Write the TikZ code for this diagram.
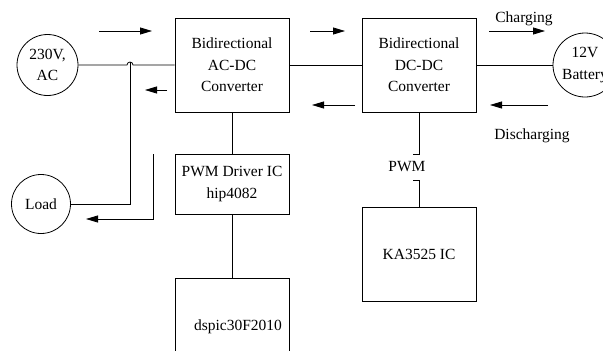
\documentclass[tikz,border=0pt]{standalone}
\usepackage{fontspec}
\setmainfont{Liberation Serif}
\usetikzlibrary{arrows.meta}

\begin{document}
\begin{tikzpicture}[>={Triangle[length=12pt,width=7pt]},x=1pt,y=-1pt,line width=0.8pt]

        % Styles
        \tikzset{
          txt/.style={font=\fontsize{15.5}{21.5}\selectfont,align=center,inner sep=0pt},
          block/.style={txt,rectangle,draw,minimum width=114pt},
          port/.style={txt,circle,draw}
        }

        % y-coordinates for rows
        \def\ytop{65}      % converters
        \def\ymid{184}     % driver
        \def\ylow{254}     % KA3525
        \def\ybot{327}     % dspic

        \useasboundingbox (0,0) rectangle (603,351);
        \clip (0,0) rectangle (603,351);

        %-------------------------------
        % Converters
        %-------------------------------
        \node[block,minimum height=94pt] (acdc) at (232,\ytop)
        {Bidirectional\\AC-DC\\Converter};
        \node[block,minimum height=94pt] (dcdc) at (419,\ytop)
        {Bidirectional\\DC-DC\\Converter};

        % Control blocks
        \node[block,minimum height=60pt] (drv) at (232,\ymid) {PWM Driver IC\\hip4082};
        \node[block,minimum height=94pt] (ka)  at (419,\ylow) {KA3525 IC};
        \node[block,minimum height=98pt] (dsp) at (232,\ybot) {\hspace*{12pt}dspic30F2010};

        % Source, load and battery
        \node[port,minimum size=61pt] (ac)   at (47.5,\ytop) {230V,\\AC};
        \node[port,minimum size=59pt] (load) at (41,204)     {Load};
        \node[port,minimum size=64pt] (bat)  at (585,\ytop)  {12V\\Battery};

        %-------------------------------
        % Power path
        %-------------------------------
        \coordinate (hop) at (130,\ytop);
        \draw (ac) -- ([xshift=-3pt]hop) arc[start angle=180,end angle=360,radius=3]
              -- (acdc);
        \draw (acdc) -- (dcdc);
        \draw (dcdc) -- (bat);

        % Tap to the load
        \coordinate (tap) at (130,\ytop-3);
        \draw (tap) |- (load);

        \coordinate (ret)    at (153,154);
        \coordinate (rettip) at (86,219);
        \draw[->] (ret) |- (rettip);

        %-------------------------------
        % Control path
        %-------------------------------
        \draw (acdc) -- (drv);
        \draw (drv) -- (dsp);

        \node[txt] (pwm) at (407,167) {PWM};
        \coordinate (pa) at (413,154);
        \coordinate (pb) at (413,180);
        \draw (dcdc.south) |- (pa);
        \draw (pb) -| (ka.north);

        %---------------------------------
        % Power flow arrows
        %---------------------------------
        \coordinate (f1a) at (99,31);  \coordinate (f1b) at (152,31);
        \coordinate (b1a) at (167,90); \coordinate (b1b) at (145,90);
        \coordinate (f2a) at (310,31); \coordinate (f2b) at (345,31);
        \coordinate (b2a) at (355,105); \coordinate (b2b) at (312,105);
        \coordinate (f3a) at (489,31); \coordinate (f3b) at (545,31);
        \coordinate (b3a) at (548,105); \coordinate (b3b) at (490,105);

        \draw[->] (f1a) -- (f1b);
        \draw[->] (b1a) -- (b1b);
        \draw[->] (f2a) -- (f2b);
        \draw[->] (b2a) -- (b2b);
        \draw[->] (f3a) -- (f3b);
        \draw[->] (b3a) -- (b3b);

        \node[txt] (chg) at (524,19)  {Charging};
        \node[txt] (dis) at (532,136) {Discharging};

    \end{tikzpicture}
\end{document}
